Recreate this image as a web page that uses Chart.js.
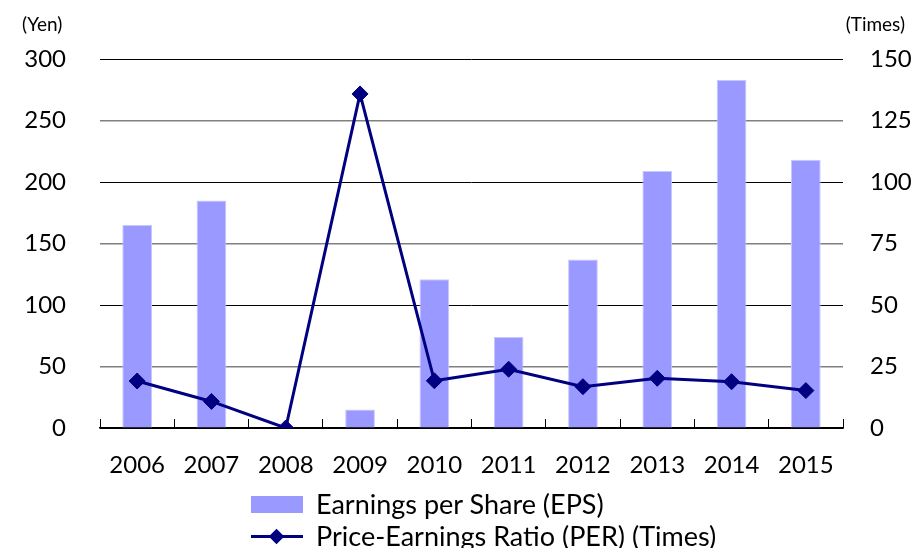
<!DOCTYPE html>
<html>
<head>
<meta charset="utf-8">
<script src="https://cdn.jsdelivr.net/npm/chart.js@4"></script>
<style>
  html, body { margin: 0; padding: 0; background: #fff; }
  #wrap { position: relative; width: 919px; height: 548px; font-family: Lato, sans-serif; color: #000; }
  #chart { position: absolute; left: 0; top: 0; }
  .unit { position: absolute; top: 12px; font-size: 19px; }
  #legend { position: absolute; left: 251px; top: 488px; font-size: 27px; line-height: 32px; }
  .row { display: flex; align-items: center; height: 32px; }
  .sw { width: 52px; height: 17px; margin-right: 13px; position: relative; }
</style>
</head>
<body>
<div id="wrap">
  <canvas id="chart" width="919" height="548"></canvas>
  <div class="unit" style="left:22px">(Yen)</div>
  <div class="unit" style="right:14px">(Times)</div>
  <div id="legend"></div>
</div>
<script>
const years = ["2006", "2007", "2008", "2009", "2010", "2011", "2012", "2013", "2014", "2015"];
const eps = [165, 185, 0, 15, 121, 74, 137, 209, 283, 218];
const per = [19.1, 10.8, 0, 135.8, 19.2, 23.9, 16.8, 20.2, 18.8, 15.2];
const epsLabel = "Earnings per Share (EPS)";
const perLabel = "Price-Earnings Ratio (PER) (Times)";

const barColor = "#9999ff";
const lineColor = "#000080";
const font = { family: "Lato", size: 24 };

const ctx = document.getElementById("chart").getContext("2d");
new Chart(ctx, {
    data: {
        labels: years,
        datasets: [
            {
                type: "line",
                label: perLabel,
                data: per,
                yAxisID: "yr",
                borderColor: lineColor,
                backgroundColor: lineColor,
                borderWidth: 3,
                pointStyle: "rectRot",
                pointRadius: 8,
                pointBorderWidth: 1,
                tension: 0,
                order: 0
            },
            {
                type: "bar",
                label: epsLabel,
                data: eps,
                yAxisID: "y",
                backgroundColor: barColor,
                borderColor: "#c8c8ff",
                borderWidth: 1,
                barPercentage: 0.4,
                categoryPercentage: 1,
                order: 1
            }
        ]
    },
    options: {
        responsive: false,
        animation: false,
        layout: { padding: { left: 0, right: 0, top: 59, bottom: 60 } },
        plugins: { legend: { display: false }, tooltip: { enabled: false } },
        scales: {
            x: {
                offset: true,
                grid: { offset: true, drawOnChartArea: false, drawTicks: true, tickLength: -9, color: "#000", lineWidth: 1 },
                border: { display: true, color: "#000", width: 1.5 },
                ticks: { font, color: "#000", padding: 32, maxRotation: 0 },
                afterFit: s => { s.height = 60; }
            },
            y: {
                position: "left",
                min: 0, max: 300,
                ticks: { stepSize: 50, font, color: "#000", padding: 34 },
                grid: {
                    drawTicks: false,
                    color: c => (c.tick.value % 100 === 0 ? "#000" : "#808080"),
                    lineWidth: c => (c.tick.value % 100 === 0 ? 1 : 1.6)
                },
                border: { display: false },
                afterFit: s => { s.width = 100; }
            },
            yr: {
                position: "right",
                min: 0, max: 150,
                ticks: { stepSize: 25, font, color: "#000", padding: 27 },
                grid: { display: false, drawTicks: false },
                border: { display: false },
                afterFit: s => { s.width = 76; }
            }
        }
    }
});

// legend as html text
const legend = document.getElementById("legend");
legend.innerHTML =
    '<div class="row"><div class="sw" style="background:' + barColor + '"></div><span>' + epsLabel + '</span></div>' +
    '<div class="row"><div class="sw"><div style="position:absolute;left:0;right:0;top:7px;height:3px;background:' + lineColor + '"></div>' +
    '<div style="position:absolute;left:20px;top:3px;width:11px;height:11px;background:' + lineColor + ';transform:rotate(45deg)"></div></div><span>' + perLabel + '</span></div>';
</script>
</body>
</html>
